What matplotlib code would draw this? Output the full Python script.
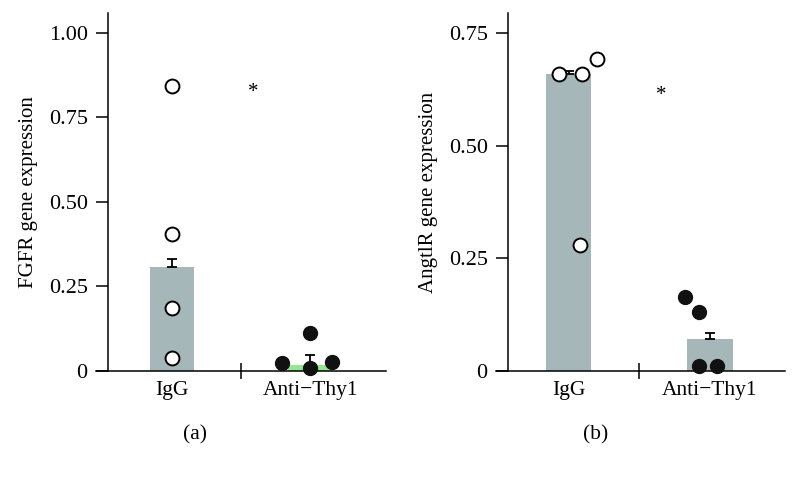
import matplotlib
matplotlib.use("Agg")
import matplotlib.pyplot as plt
import numpy as np

plt.rcParams['font.family'] = ['Liberation Serif', 'DejaVu Serif']

categories = ["IgG", "Anti\u2212Thy1"]

# Panel (a): FGFR
fgfr_bar = [0.307, 0.018]
fgfr_err = [0.023, 0.029]
fgfr_igg_pts = [0.843, 0.404, 0.187, 0.039]
fgfr_igg_off = [0.0, 0.0, 0.0, 0.0]
fgfr_thy_pts = [0.025, 0.113, 0.010, 0.028]
fgfr_thy_off = [-0.20, 0.0, 0.0, 0.16]

# Panel (b): AngtlR
ang_bar = [0.658, 0.071]
ang_err = [0.007, 0.014]
ang_igg_pts = [0.658, 0.658, 0.691, 0.279]
ang_igg_off = [-0.067, 0.098, 0.204, 0.081]
ang_thy_pts = [0.165, 0.130, 0.010, 0.011]
ang_thy_off = [-0.18, -0.078, -0.078, 0.047]

bar_colors_a = ["#a6b7ba", "#93e88f"]
bar_colors_b = ["#a6b7ba", "#a6b7ba"]

fig = plt.figure(figsize=(7.99, 4.79), dpi=100)

def panel(rect, bars, errs, igg, igg_off, thy, thy_off, colors, ylim, yticks, yticklabels,
          ylabel, xlim, star, letter, letter_x):
    ax = fig.add_axes(rect)
    x = np.array([1, 2])
    ax.bar(x, bars, width=0.32, color=colors, zorder=1)
    for xi, b, e in zip(x, bars, errs):
        ax.errorbar([xi], [b], yerr=[[0], [e]], fmt='none', ecolor='black',
                    elinewidth=1.3, capsize=3.5, capthick=1.3, zorder=2)
    ax.plot(1 + np.array(igg_off), igg, 'o', ms=10, mfc='white', mec='black', mew=1.4,
            zorder=3, clip_on=False)
    ax.plot(2 + np.array(thy_off), thy, 'o', ms=10, mfc='#111111', mec='#111111', mew=1.0,
            zorder=3, clip_on=False)
    ax.set_xlim(*xlim)
    ax.set_ylim(*ylim)
    ax.set_yticks(yticks)
    ax.set_yticklabels(yticklabels, fontsize=16)
    ax.set_xticks([1.5])
    ax.set_xticklabels([""])
    ax.set_xticks([1, 2], minor=True)
    ax.set_xticklabels(categories, minor=True, fontsize=15.5)
    ax.tick_params(axis='x', which='major', direction='inout', length=11.5, width=1.1)
    ax.tick_params(axis='x', which='minor', length=0, pad=7)
    ax.tick_params(axis='y', length=8.6, width=1.1, pad=6)
    for s in ['top', 'right']:
        ax.spines[s].set_visible(False)
    for s in ['left', 'bottom']:
        ax.spines[s].set_linewidth(1.1)
    span = xlim[1] - xlim[0]
    ax.spines['bottom'].set_bounds(xlim[0] - span * 12 / 278, xlim[1])
    ax.set_ylabel(ylabel, fontsize=15, labelpad=8)
    ax.text(star[0], star[1], "*", fontsize=15, ha='center', va='center')
    fig.text(letter_x, 1 - 435 / 479, letter, fontsize=15.5, ha='center', va='center')
    return ax

panel([108 / 799, 1 - 371 / 479, 278 / 799, 358 / 479], fgfr_bar, fgfr_err,
      fgfr_igg_pts, fgfr_igg_off, fgfr_thy_pts, fgfr_thy_off, bar_colors_a,
      (0, 1.059), [0, 0.25, 0.5, 0.75, 1.0], ["0", "0.25", "0.50", "0.75", "1.00"],
      "FGFR gene expression", (0.536, 2.55), (1.59, 0.825), "(a)", 195 / 799)

panel([508 / 799, 1 - 371 / 479, 277 / 799, 358 / 479], ang_bar, ang_err,
      ang_igg_pts, ang_igg_off, ang_thy_pts, ang_thy_off, bar_colors_b,
      (0, 0.794), [0, 0.25, 0.5, 0.75], ["0", "0.25", "0.50", "0.75"],
      "AngtlR gene expression", (0.572, 2.53), (1.654, 0.61), "(b)", 596 / 799)

fig.savefig("out.png", dpi=100)
